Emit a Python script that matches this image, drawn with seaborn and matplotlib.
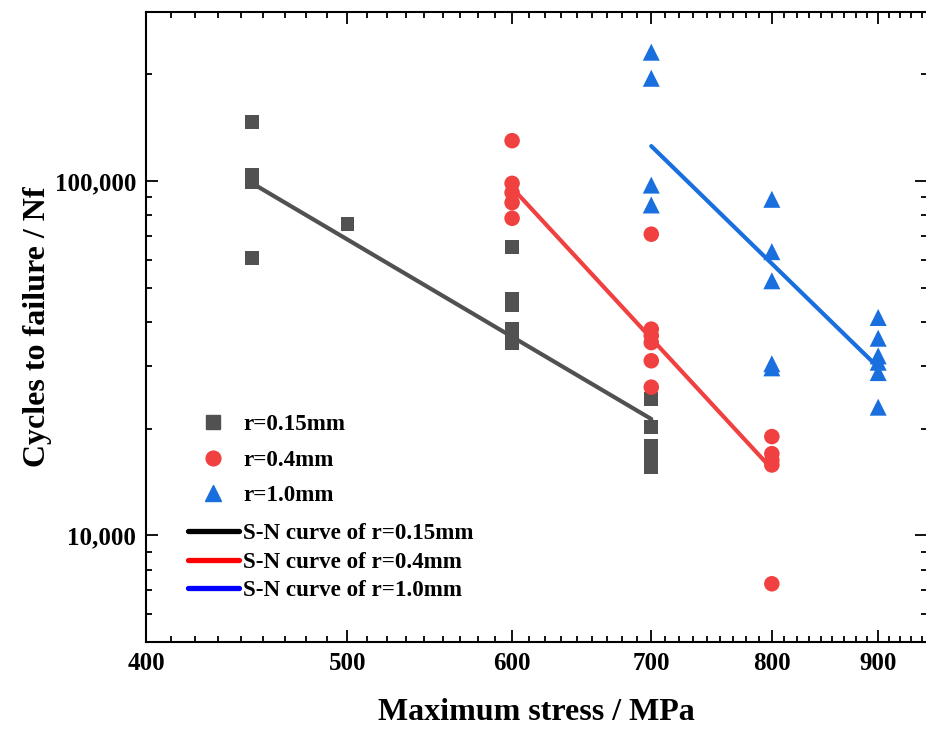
import numpy as np
import pandas as pd
import seaborn as sns
import matplotlib
matplotlib.use("Agg")
import matplotlib.pyplot as plt
from matplotlib.ticker import FixedLocator, FuncFormatter, LogLocator, NullFormatter
from matplotlib.lines import Line2D

# Fatigue test results: maximum stress (MPa) vs cycles to failure
stress_r015 = [450, 450, 450, 450, 500, 600, 600, 600, 600, 600, 600,
               700, 700, 700, 700, 700]
cycles_r015 = [147000, 104000, 99500, 60500, 75500, 65000, 46500, 44700,
               38300, 36600, 35000, 24200, 20200, 17900, 16800, 15600]

stress_r04 = [600, 600, 600, 600, 600, 700, 700, 700, 700, 700, 700,
              800, 800, 800, 800, 800]
cycles_r04 = [130000, 98500, 92700, 86900, 78500, 70800, 38200, 36600,
              35000, 31100, 26200, 19000, 17000, 16300, 15800, 7300]

stress_r10 = [700, 700, 700, 700, 800, 800, 800, 800, 800,
              900, 900, 900, 900, 900, 900]
cycles_r10 = [231000, 195000, 97400, 85600, 88800, 63200, 52300, 30500, 29700,
              41200, 36000, 32100, 30800, 28800, 23000]

# Fitted S-N curves (power law, straight in log-log), end points
fit_stress_r015 = [450, 700]
fit_cycles_r015 = [98500, 21300]
fit_stress_r04 = [600, 800]
fit_cycles_r04 = [95700, 15400]
fit_stress_r10 = [700, 900]
fit_cycles_r10 = [125500, 29800]

series_names = ["r=0.15mm", "r=0.4mm", "r=1.0mm"]
curve_labels = ["S-N curve of r=0.15mm", "S-N curve of r=0.4mm", "S-N curve of r=1.0mm"]
x_ticks = [400, 500, 600, 700, 800, 900]
y_ticks = [10000, 100000]

colors = {"r=0.15mm": "#515151", "r=0.4mm": "#F14040", "r=1.0mm": "#1A6FDF"}
markers = {"r=0.15mm": "s", "r=0.4mm": "o", "r=1.0mm": "^"}
sizes = {"r=0.15mm": 100, "r=0.4mm": 125, "r=1.0mm": 150}

points = pd.DataFrame({
    "stress": stress_r015 + stress_r04 + stress_r10,
    "cycles": cycles_r015 + cycles_r04 + cycles_r10,
    "radius": ([series_names[0]] * len(stress_r015) + [series_names[1]] * len(stress_r04)
               + [series_names[2]] * len(stress_r10)),
})
curves = pd.DataFrame({
    "stress": fit_stress_r015 + fit_stress_r04 + fit_stress_r10,
    "cycles": fit_cycles_r015 + fit_cycles_r04 + fit_cycles_r10,
    "radius": ([series_names[0]] * 2 + [series_names[1]] * 2 + [series_names[2]] * 2),
})

sns.set_style("ticks")
plt.rcParams["font.family"] = ["Liberation Serif", "DejaVu Serif"]
plt.rcParams["font.weight"] = "bold"
for key in ["text.color", "axes.labelcolor", "xtick.color", "ytick.color", "axes.edgecolor"]:
    plt.rcParams[key] = "black"

fig = plt.figure(figsize=(9.26, 7.31), dpi=100)
ax = fig.add_axes([146 / 926, 1 - 642 / 731, (927 - 146) / 926, (642 - 12) / 731])
ax.set_xscale("log")
ax.set_yscale("log")

sns.scatterplot(data=points, x="stress", y="cycles", hue="radius", style="radius",
                size="radius", palette=colors, markers=markers, sizes=sizes,
                linewidth=0, legend=False, ax=ax, zorder=2)
sns.lineplot(data=curves, x="stress", y="cycles", hue="radius", palette=colors,
             estimator=None, linewidth=3, legend=False, ax=ax, zorder=3)

ax.set_xlim(400, 950)
ax.set_ylim(5000, 300000)

# x axis: major ticks every 100 MPa, eight linear minor ticks in between
ax.xaxis.set_major_locator(FixedLocator(x_ticks))
ax.xaxis.set_major_formatter(FuncFormatter(lambda v, p: f"{int(round(v))}"))
minor_x = [b + k * 100 / 9 for b in range(400, 1000, 100) for k in range(1, 9)]
ax.xaxis.set_minor_locator(FixedLocator([m for m in minor_x if m < 950]))
ax.xaxis.set_minor_formatter(NullFormatter())

ax.yaxis.set_major_locator(FixedLocator(y_ticks))
ax.yaxis.set_major_formatter(FuncFormatter(lambda v, p: f"{int(round(v)):,}"))
ax.yaxis.set_minor_locator(LogLocator(base=10, subs=np.arange(2, 10), numticks=20))
ax.yaxis.set_minor_formatter(NullFormatter())

ax.tick_params(which="both", direction="in", top=True, right=True, width=1.3,
               color="black", labelcolor="black")
ax.tick_params(which="major", length=8.5, labelsize=18, pad=7)
ax.tick_params(which="minor", length=4.5)
for lab in ax.get_xticklabels() + ax.get_yticklabels():
    lab.set_fontweight("bold")
for sp in ax.spines.values():
    sp.set_linewidth(1.5)
    sp.set_color("black")

ax.set_xlabel("Maximum stress / MPa", fontsize=23, fontweight="bold", labelpad=17,
              color="black")
ax.set_ylabel("Cycles to failure / Nf", fontsize=23, fontweight="bold", labelpad=2,
              color="black")

# Legends: measured data markers, then the fitted curves
marker_handles = [Line2D([], [], linestyle="none", marker=markers[n], color=colors[n],
                         markersize=np.sqrt(sizes[n]) * 0.95) for n in series_names]
leg1 = ax.legend(marker_handles, series_names, loc="center left",
                 bbox_to_anchor=(188 / 926, 1 - 460 / 731), bbox_transform=fig.transFigure,
                 frameon=False, borderpad=0, borderaxespad=0, handlelength=2.2,
                 handletextpad=0.2, labelspacing=0.62, prop={"size": 16.6, "weight": "bold"})
ax.add_artist(leg1)
curve_handles = [Line2D([], [], color=c, linewidth=3.8) for c in ["black", "#FF0000", "#0000FF"]]
ax.legend(curve_handles, curve_labels, loc="center left",
          bbox_to_anchor=(188 / 926, 1 - 562 / 731), bbox_transform=fig.transFigure,
          frameon=False, borderpad=0, borderaxespad=0, handlelength=2.2,
          handletextpad=0.2, labelspacing=0.33, prop={"size": 16.6, "weight": "bold"})

fig.savefig("out.png", dpi=100)
